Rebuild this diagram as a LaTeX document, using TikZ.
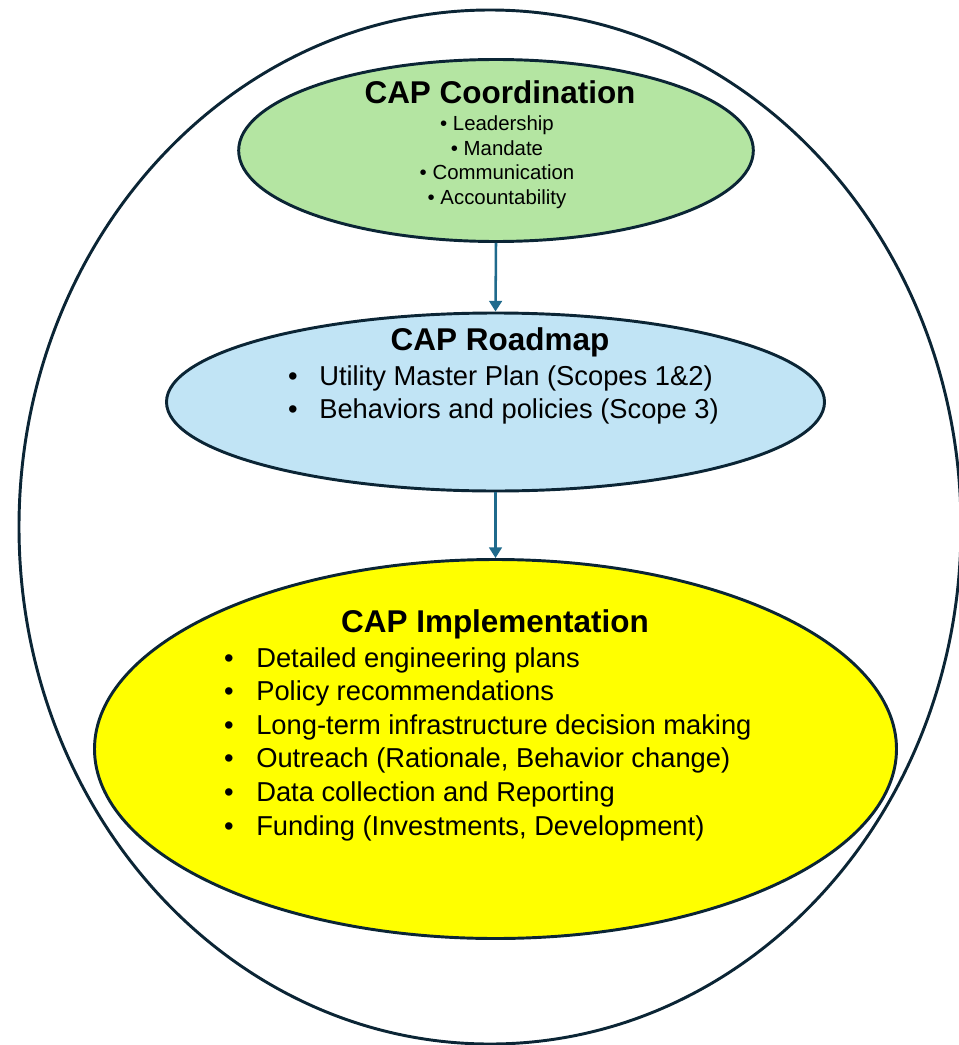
\documentclass[tikz,border=0pt]{standalone}
\usepackage{fontspec}
\setmainfont{Liberation Sans}
\usetikzlibrary{shapes.geometric, arrows.meta, positioning, calc}
\definecolor{rim}{HTML}{0B2535}
\definecolor{coordgreen}{HTML}{B4E5A2}
\definecolor{roadblue}{HTML}{C1E4F5}
\definecolor{implyellow}{HTML}{FFFF00}
\definecolor{arrowblue}{HTML}{1F6A8C}

\begin{document}
\begin{tikzpicture}[x=0.75pt, y=-0.75pt,
    oval/.style={ellipse, draw=rim, line width=2.2pt, inner sep=0pt},
    flow/.style={draw=arrowblue, line width=1.9pt, -{Triangle[width=9.5pt,length=8pt]}},
    head/.style={anchor=base, font=\fontsize{23.6}{28}\selectfont\bfseries},
    item/.style={anchor=base west, inner xsep=0pt, font=\fontsize{20.5}{24}\selectfont},
    dot/.style={anchor=base, font=\fontsize{20.5}{24}\selectfont},
    small/.style={anchor=base, font=\fontsize{15.3}{18}\selectfont}]

  \useasboundingbox (0,0) rectangle (959,1045);
  \clip (0,0) rectangle (959,1045);

  % outer boundary
  \draw[rim, line width=2.2pt] (490,527) ellipse [x radius=353.25pt, y radius=387.75pt];

  % the three stages
  \node[oval, fill=coordgreen, minimum width=386pt, minimum height=136.5pt] (coord) at (496,150.5) {};
  \node[oval, fill=roadblue, minimum width=493.5pt, minimum height=133.5pt] (road) at (495.5,402) {};
  \node[oval, fill=implyellow, minimum width=601.5pt, minimum height=284.25pt] (impl) at (495.5,749) {};

  \draw[flow] (coord.south) -- (road.north);
  \draw[flow] (road.south) -- (impl.north);

  % coordination
  \node[head] (coordtitle) at (500,104) {CAP Coordination};
  \foreach \txt [count=\i] in {Leadership, Mandate, Communication, Accountability}
    \node[small] (coorditem\i) at (497,106.5+24.5*\i) {\textbullet{} \txt};

  % roadmap
  \node[head] (roadtitle) at (500,350) {CAP Roadmap};
  \foreach \txt [count=\i] in {Utility Master Plan (Scopes 1\&2), Behaviors and policies (Scope 3)} {
    \node[dot] (roaddot\i) at (293,352.5+33*\i) {\textbullet};
    \node[item] (roaditem\i) at (319,352.5+33*\i) {\txt};
  }

  % implementation
  \node[head] (impltitle) at (495,632) {CAP Implementation};
  \foreach \txt [count=\i] in {Detailed engineering plans, Policy recommendations,
      Long-term infrastructure decision making, {Outreach (Rationale, Behavior change)},
      Data collection and Reporting, {Funding (Investments, Development)}} {
    \node[dot] (impldot\i) at (229,633.4+33.6*\i) {\textbullet};
    \node[item] (implitem\i) at (256,633.4+33.6*\i) {\txt};
  }
\end{tikzpicture}
\end{document}
